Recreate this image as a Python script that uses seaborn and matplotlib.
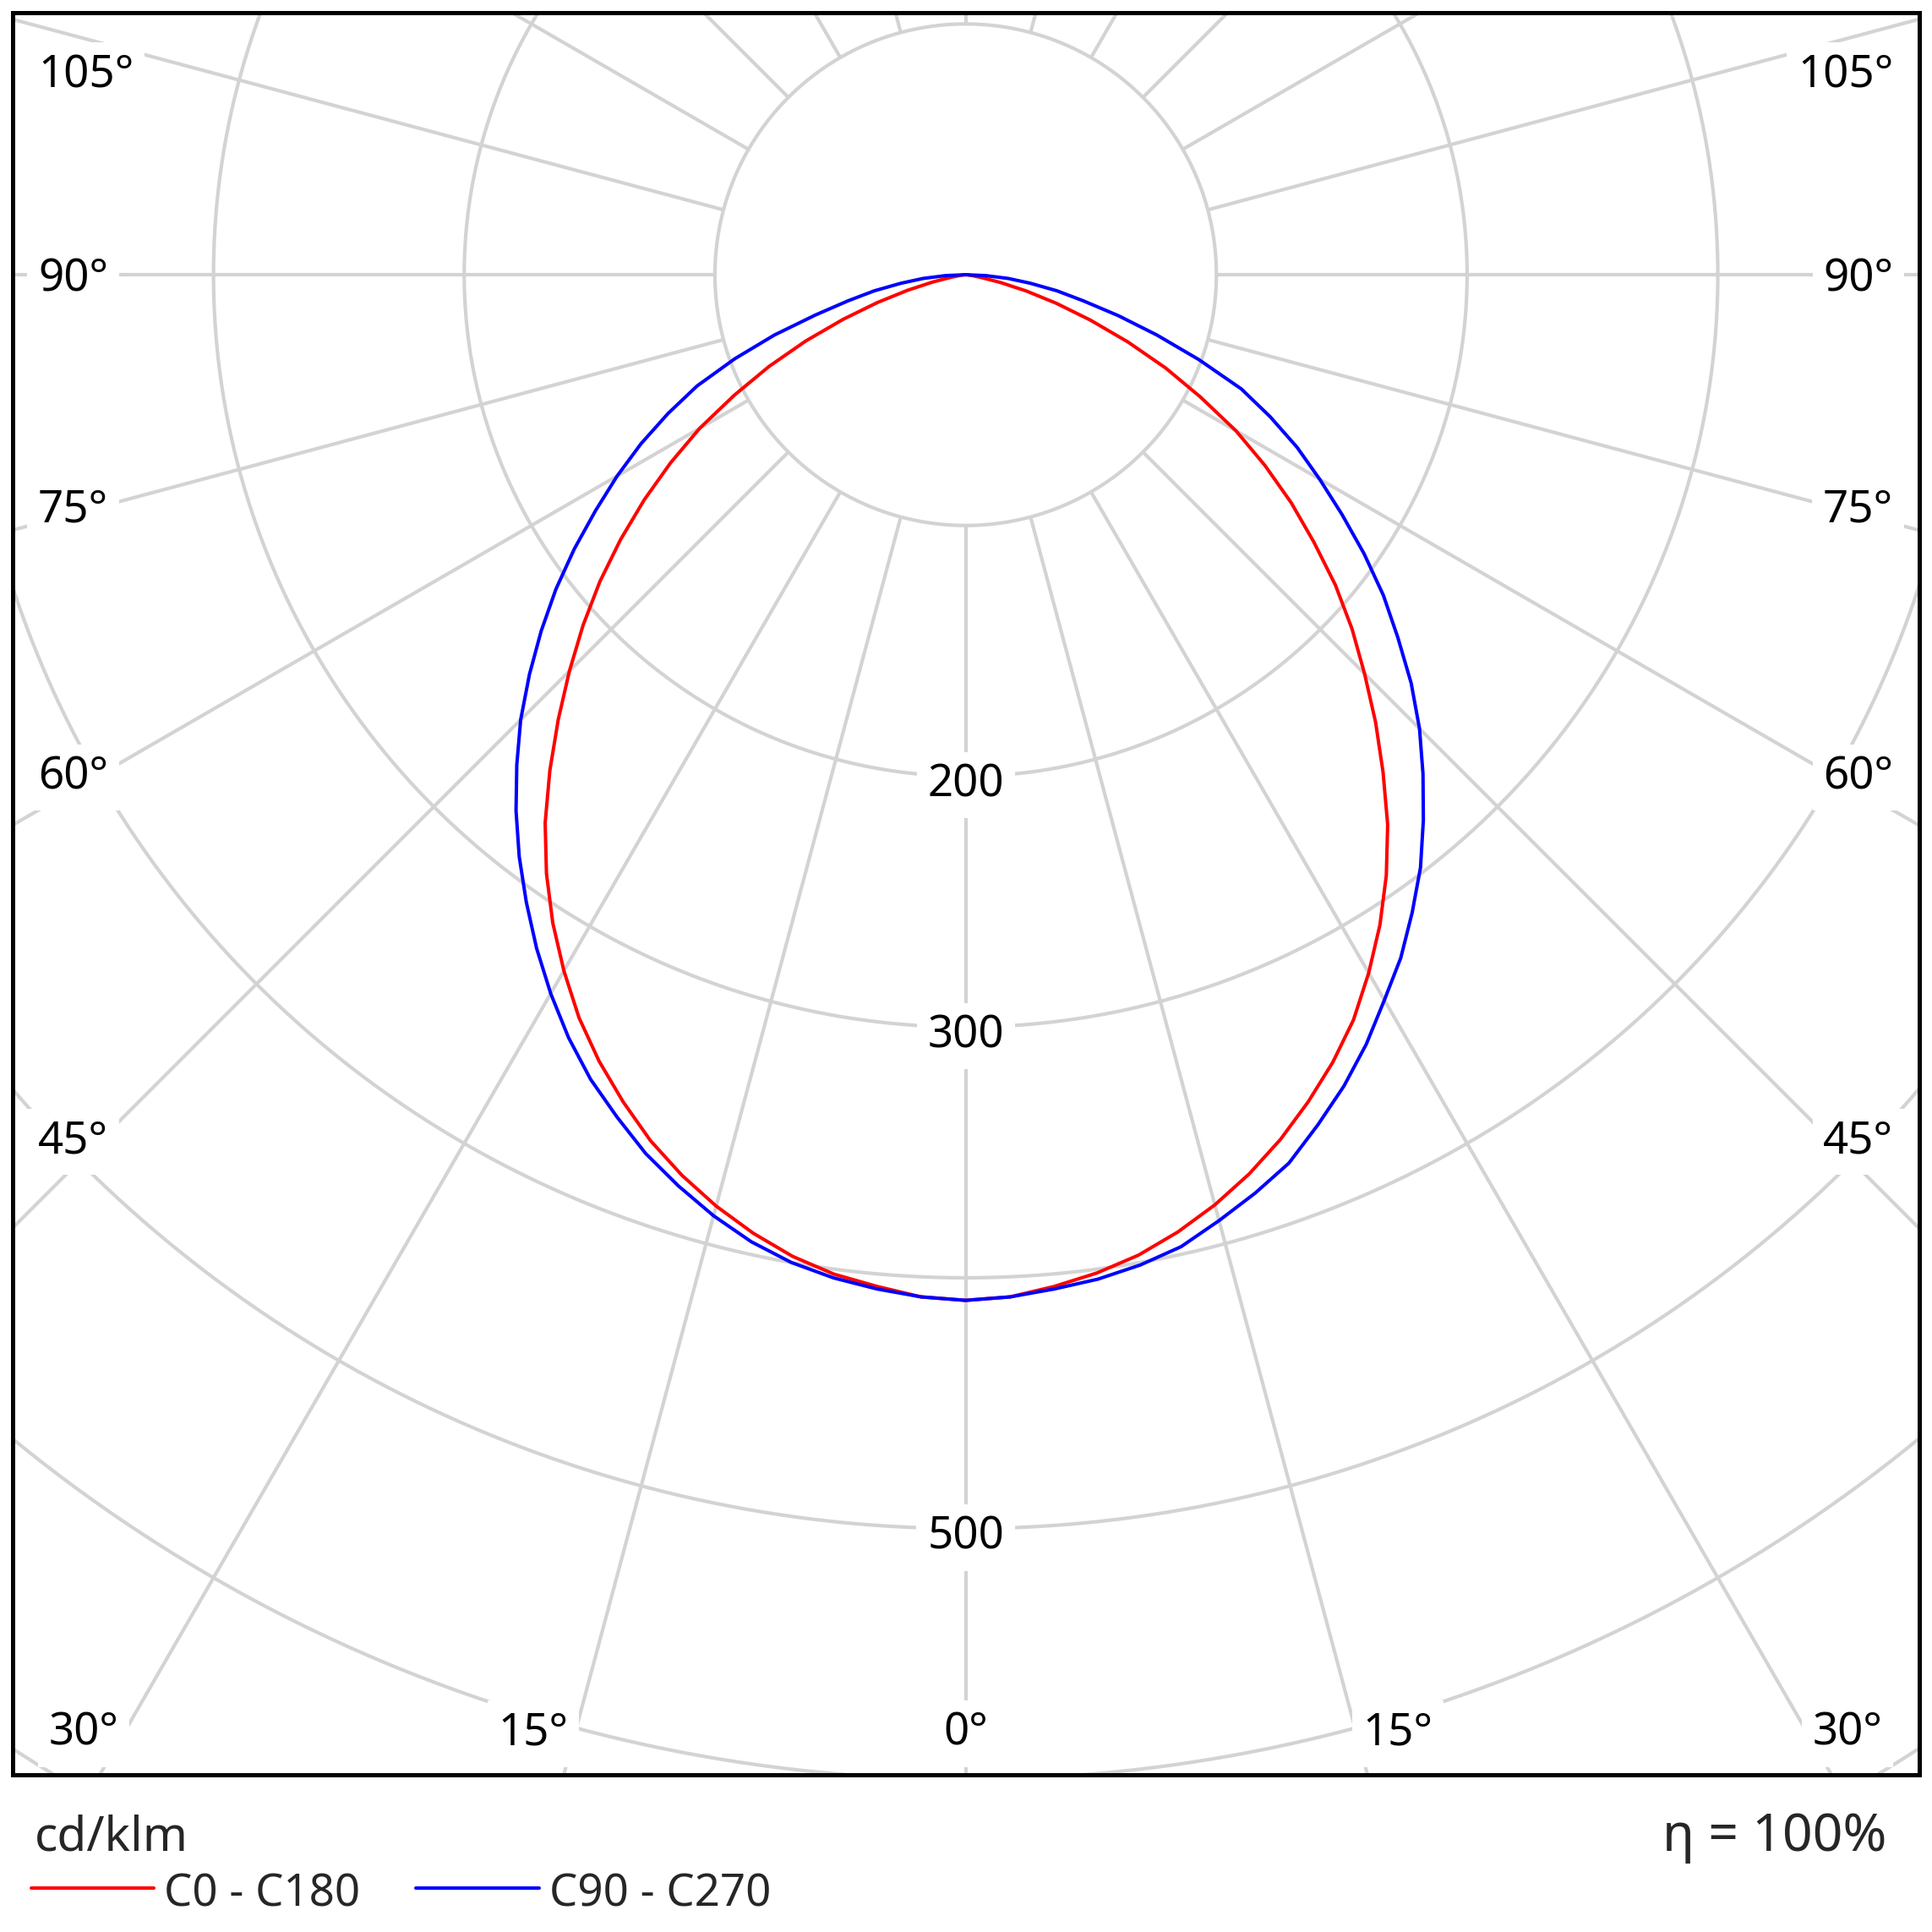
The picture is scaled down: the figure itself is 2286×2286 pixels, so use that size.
import numpy as np
import pandas as pd
import matplotlib
matplotlib.use("Agg")
import matplotlib.pyplot as plt
import seaborn as sns

# Luminous intensity (cd/klm), gamma 0..90 deg in 2.5 deg steps
gamma = [0, 2.5, 5, 7.5, 10, 12.5, 15, 17.5, 20, 22.5, 25, 27.5, 30, 32.5, 35, 37.5,
         40, 42.5, 45, 47.5, 50, 52.5, 55, 57.5, 60, 62.5, 65, 67.5, 70, 72.5, 75,
         77.5, 80, 82.5, 85, 87.5, 90]
c0 = [409, 408, 405, 401.5, 397, 391, 384, 376, 367, 357, 346.5, 335, 321.5, 307.5,
      292.5, 276.5, 259, 242, 225, 209, 192.5, 175, 158.5, 141.5, 124.5, 105.5, 88,
      70, 53, 38, 25, 14, 6, 2.5, 1, 0.3, 0]
c180 = [409, 408, 405, 402, 397.5, 391.5, 384.5, 376.5, 367.5, 357, 346, 334, 320.5,
        306.5, 291.5, 275.5, 258, 240.5, 223.5, 207, 190.5, 173.5, 156.5, 139.5, 122.5,
        104, 86.5, 69, 52, 37, 24, 13.5, 6, 2.5, 1, 0.3, 0]
c90 = [409, 408, 406, 404, 401, 397, 390.5, 384, 377, 367, 357, 346, 334, 323, 310.5,
       298, 284, 270, 256, 241, 225, 210, 194, 178, 163, 149, 134, 119, 99, 80, 63,
       48, 37, 26, 17, 8, 0]
c270 = [409, 408, 406, 403.5, 400, 395, 388.5, 381, 373, 363.5, 354, 343, 331, 318.5,
        305.5, 292.5, 279, 265, 251, 236, 221, 206, 190.5, 175, 160.5, 146, 131, 116,
        98, 80, 62, 48, 37, 26, 17, 8, 0]

planes = ["C0 - C180", "C90 - C270"]
colors = ["#ff0000", "#0000ff"]

ring_values = [100, 200, 300, 400, 500, 600, 700]
ring_labels = [200, 300, 500]
side_angles = [105, 90, 75, 60, 45]
bottom_angles = [30, 15, 0]

# build the curves: left half (C180 / C270) then right half (C0 / C90)
frames = []
for plane, left, right in [(planes[0], c180, c0), (planes[1], c270, c90)]:
    g = np.array(gamma, dtype=float)
    ang = np.concatenate([-g[::-1], g[1:]])
    r = np.concatenate([np.array(left)[::-1], np.array(right)[1:]])
    frames.append(pd.DataFrame({
        "x": r * np.sin(np.radians(ang)),
        "y": -r * np.cos(np.radians(ang)),
        "plane": plane,
    }))
data = pd.concat(frames, ignore_index=True)

sns.set_style("white")
plt.rcParams["font.family"] = ["Noto Sans", "DejaVu Sans"]

fig = plt.figure(figsize=(22.86, 22.86), dpi=100)
ax = fig.add_axes([0.00643, 0.08136, 0.98679, 0.91221])

grid_kw = dict(color="#d3d3d3", lw=3.0, zorder=1, solid_capstyle="butt")

# rings
th = np.linspace(0, 2 * np.pi, 1441)
for rv in ring_values:
    ax.plot(rv * np.sin(th), rv * np.cos(th), **grid_kw)

# rays every 15 deg, starting at the inner ring
for a in range(0, 360, 15):
    t = np.radians(a)
    ax.plot([100 * np.sin(t), 900 * np.sin(t)], [-100 * np.cos(t), -900 * np.cos(t)], **grid_kw)

# the two planes
sns.lineplot(data=data, x="x", y="y", hue="plane", hue_order=planes,
             palette=dict(zip(planes, colors)), sort=False, estimator=None,
             lw=2.9, ax=ax, zorder=3)

label_kw = dict(fontsize=38, color="black", zorder=2,
                bbox=dict(facecolor="white", edgecolor="none", pad=9))
cap = 6.4  # half cap height in data units

# angle labels on the sides
for a in side_angles:
    yc = min(-344 / np.tan(np.radians(a)), 81.2) if a != 90 else 0.0
    ax.text(-370, yc - cap, f"{a}°", ha="left", va="baseline", **label_kw)
    ax.text(370, yc - cap, f"{a}°", ha="right", va="baseline", **label_kw)

# angle labels along the bottom
for a in bottom_angles:
    xr = 580 * np.tan(np.radians(a))
    if a == 0:
        ax.text(0, -580 - cap, f"{a}°", ha="center", va="baseline", **label_kw)
    else:
        ax.text(-xr - 3, -580 - cap, f"{a}°", ha="right", va="baseline", **label_kw)
        ax.text(xr + 3, -580 - cap, f"{a}°", ha="left", va="baseline", **label_kw)

# intensity labels on the 0 deg ray
for rv in ring_labels:
    ax.text(0, -rv - 1.8 - cap, str(rv), ha="center", va="baseline", **label_kw)

ax.set_xlim(-380.2, 380.2)
ax.set_ylim(-598.2, 104.6)
ax.set_xticks([])
ax.set_yticks([])
ax.set_xlabel("")
ax.set_ylabel("")
for sp in ax.spines.values():
    sp.set_visible(True)
    sp.set_color("black")
    sp.set_linewidth(3.6)
    sp.set_zorder(5)

sns.move_legend(ax, loc="center left", bbox_to_anchor=(0.0162, 0.0199),
                bbox_transform=fig.transFigure, ncol=2, frameon=False,
                fontsize=38, handlelength=2.75, handletextpad=0.23,
                handleheight=1.05, columnspacing=1.25, borderpad=0,
                borderaxespad=0)
leg = ax.get_legend()
leg.set_title("")
for h in leg.legend_handles:
    h.set_linewidth(2.9)

fig.text(0.0180, 0.0420, "cd/klm", fontsize=41, ha="left", va="baseline")
fig.text(0.9766, 0.0420, "η = 100%", fontsize=45, ha="right", va="baseline")

fig.savefig("out.png", dpi=100, facecolor="white")
